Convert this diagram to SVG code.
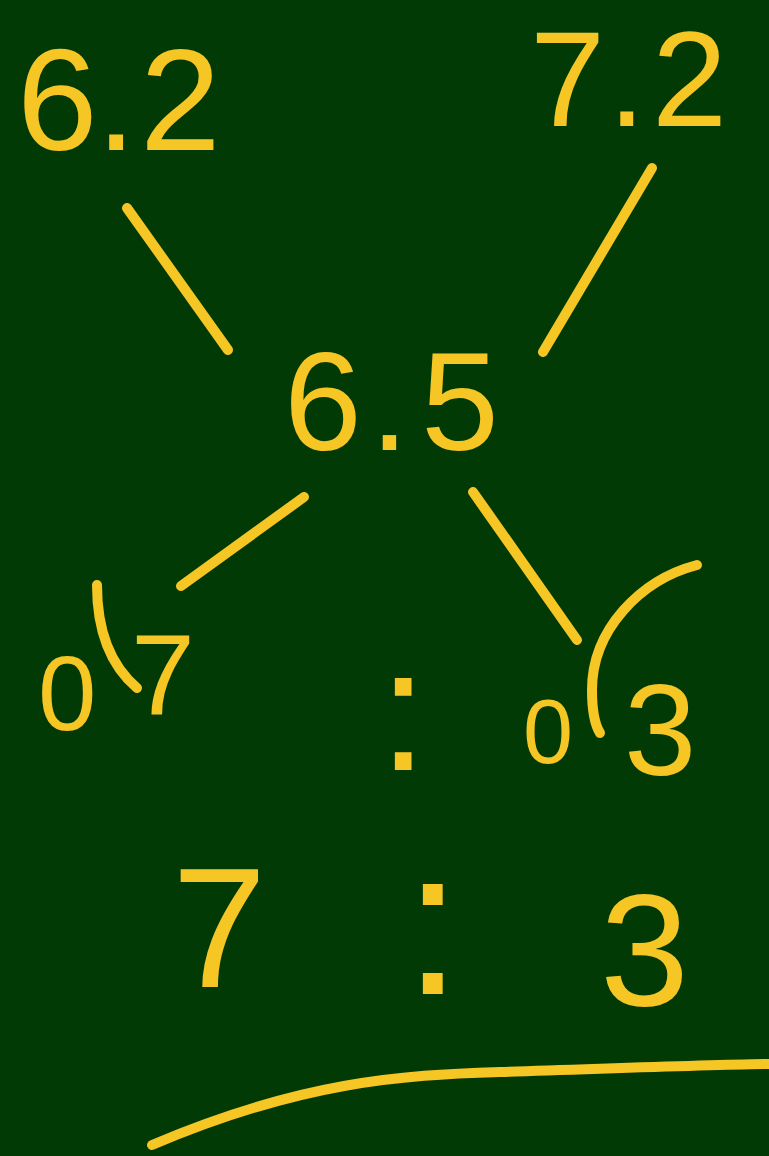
<svg xmlns="http://www.w3.org/2000/svg" width="769" height="1156" viewBox="0 0 769 1156">
<style>
.t{font-family:"Liberation Sans","Arial",sans-serif;fill:#f6c624}
.s{fill:none;stroke:#f6c624;stroke-width:10;stroke-linecap:round;stroke-linejoin:round}
</style>
<rect width="769" height="1156" fill="#023a05"/>
<g id="connectors">
<line class="s" x1="127" y1="208" x2="228" y2="350"/>
<line class="s" x1="652" y1="168" x2="543" y2="352"/>
<line class="s" x1="304" y1="497" x2="181" y2="586"/>
<line class="s" x1="473" y1="492" x2="577" y2="640"/>
</g>
<g id="n62"><text class="t" x="17 96 140" y="150" font-size="145">6.2</text></g>
<g id="n72"><text class="t" x="530 608 652" y="126" font-size="135">7.2</text></g>
<g id="n65"><text class="t" x="284 370 421" y="450" font-size="140">6.5</text></g>
<g id="n07">
<text class="t" x="38" y="730" font-size="105">0</text>
<text class="t" x="131" y="715" font-size="115">7</text>
<path class="s" d="M97,585 C97,632 110,665 137,688"/>
</g>
<g id="colon1"><text class="t" x="379" y="770" font-size="174">:</text></g>
<g id="n03">
<text class="t" x="523" y="763" font-size="90">0</text>
<text class="t" x="624" y="775" font-size="130">3</text>
<path class="s" d="M697,565 C640,580 592,630 592,690 C592,710 595,725 600,733"/>
</g>
<g id="ratio">
<text class="t" x="172" y="987" font-size="170">7</text>
<text class="t" x="404" y="994" font-size="207">:</text>
<text class="t" x="600" y="1005" font-size="160">3</text>
</g>
<g id="underline"><path class="s" d="M152,1145 C300,1082 400,1075 500,1072 S700,1065 769,1064"/></g>
</svg>
